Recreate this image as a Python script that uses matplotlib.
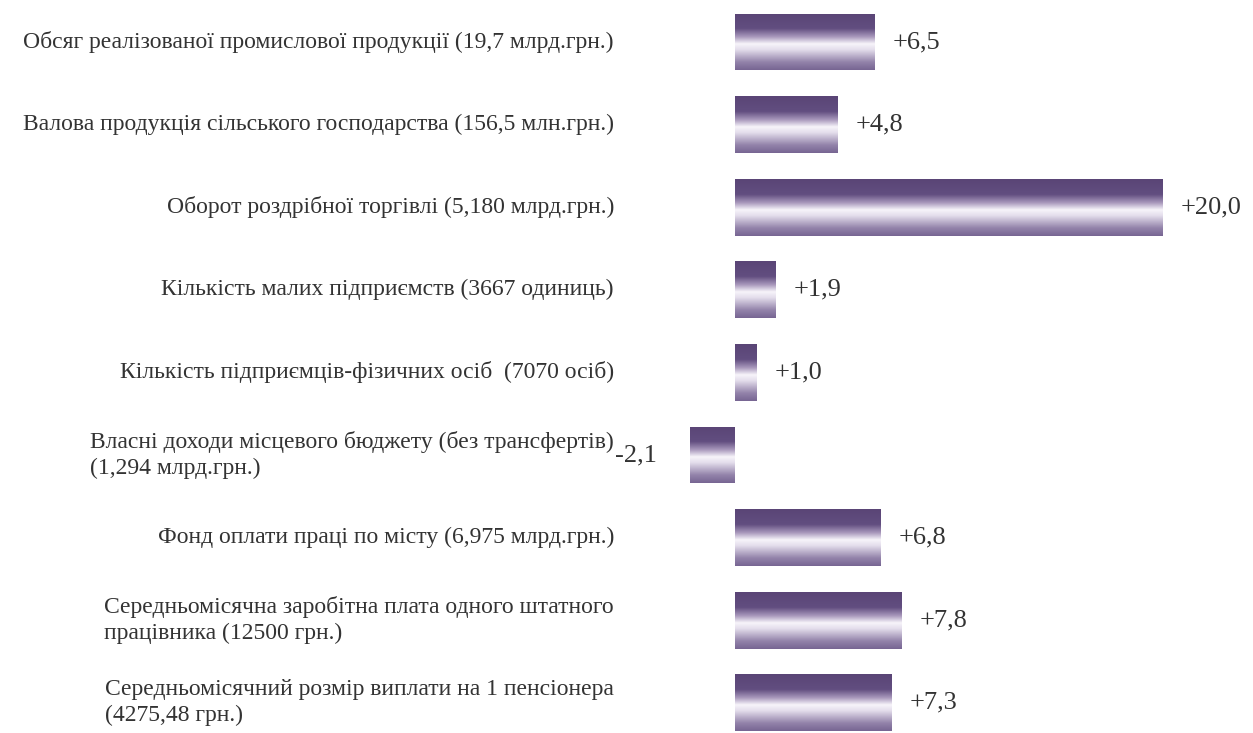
import numpy as np
import matplotlib
matplotlib.use('Agg')
import matplotlib.pyplot as plt
from matplotlib.colors import LinearSegmentedColormap
from matplotlib.transforms import blended_transform_factory

plt.rcParams['font.family'] = ['Liberation Serif', 'DejaVu Serif']

labels = [
    'Обсяг реалізованої промислової продукції (19,7 млрд.грн.)',
    'Валова продукція сільського господарства (156,5 млн.грн.)',
    'Оборот роздрібної торгівлі (5,180 млрд.грн.)',
    'Кількість малих підприємств (3667 одиниць)',
    'Кількість підприємців-фізичних осіб  (7070 осіб)',
    'Власні доходи місцевого бюджету (без трансфертів)\n(1,294 млрд.грн.)',
    'Фонд оплати праці по місту (6,975 млрд.грн.)',
    'Середньомісячна заробітна плата одного штатного\nпрацівника (12500 грн.)',
    'Середньомісячний розмір виплати на 1 пенсіонера\n(4275,48 грн.)',
]
values = [6.5, 4.8, 20.0, 1.9, 1.0, -2.1, 6.8, 7.8, 7.3]
value_text = ['+6,5', '+4,8', '+20,0', '+1,9', '+1,0', '-2,1', '+6,8', '+7,8', '+7,3']

fig = plt.figure(figsize=(12.53, 7.33), dpi=100)
ax = fig.add_axes([0, 0, 1, 1])
ax.axis('off')

# вертикальний градієнт: темний верх, білий центр, світліший низ
cmap = LinearSegmentedColormap.from_list('bar', [
    (0.0, '#5a4576'), (0.27, '#624e80'), (0.42, '#ab9bbe'),
    (0.54, '#f7f4fa'), (0.64, '#e4deec'), (0.86, '#9383aa'), (1.0, '#776592')])
grad = np.linspace(0, 1, 256).reshape(-1, 1)

h = 0.69
ypos = np.arange(len(values))
bars = ax.barh(ypos, values, height=h, facecolor='none', edgecolor='none')
for b in bars:
    x0, y0 = b.get_x(), b.get_y()
    w, hh = b.get_width(), b.get_height()
    im = ax.imshow(grad, cmap=cmap, aspect='auto', interpolation='bilinear',
                   extent=[x0, x0 + w, y0 + hh, y0])
    im.set_clip_path(b)

ppu = 21.4
ax.set_xlim(-735 / ppu, (1253 - 735) / ppu)
ax.set_ylim((733 - 42) / 82.6, -42 / 82.6)

tr = blended_transform_factory(ax.transAxes, ax.transData)
for i, lab in enumerate(labels):
    ax.text(0.490, i, lab, transform=tr, ha='right', va='center',
            multialignment='left', fontsize=17, color='#333333', linespacing=1.3)

for i, (v, t) in enumerate(zip(values, value_text)):
    if v >= 0:
        ax.annotate(t, (v, i), xytext=(13, 0), textcoords='offset points',
                    ha='left', va='center', fontsize=19, color='#333333')
    else:
        ax.annotate(t, (v, i), xytext=(-24, 0), textcoords='offset points',
                    ha='right', va='center', fontsize=19, color='#333333')

fig.savefig('out.png', dpi=100, facecolor='white')
